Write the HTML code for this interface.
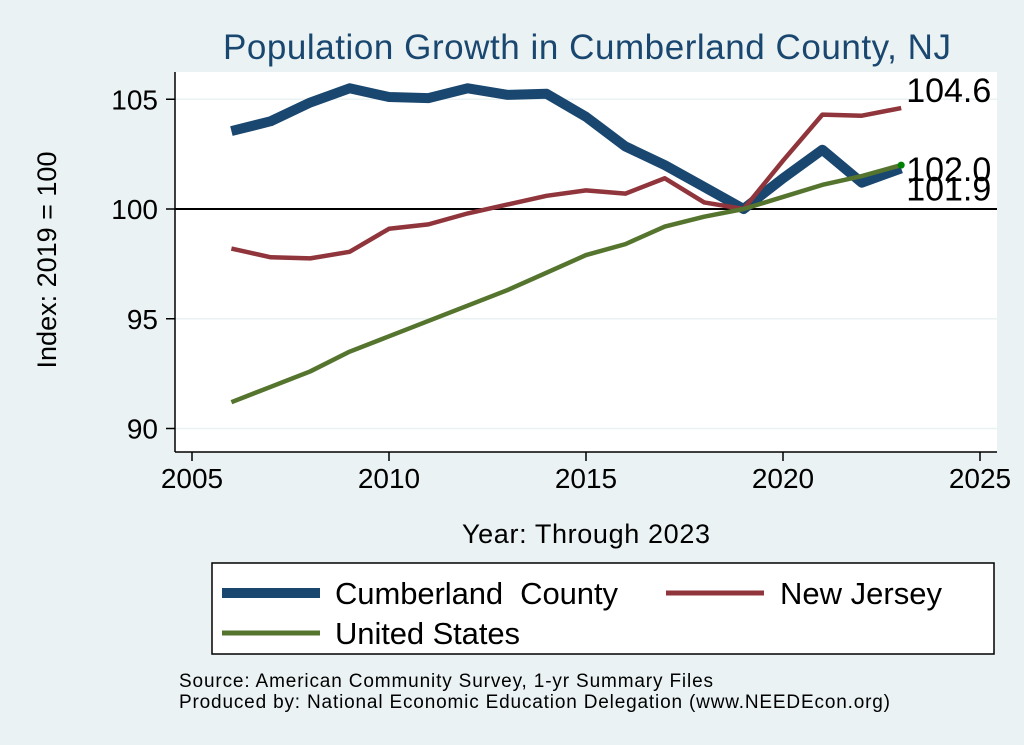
<!DOCTYPE html>
<html><head><meta charset="utf-8"><style>
body{margin:0;background:#eaf2f3;}
svg{display:block;font-family:"Liberation Sans",sans-serif;}
</style></head><body>
<svg id="c" width="1024" height="745" xmlns="http://www.w3.org/2000/svg">
<rect x="0" y="0" width="1024" height="745" fill="#eaf2f3"/>
<text x="587" y="59" font-size="35" fill="#1a476f" text-anchor="middle" textLength="728">Population Growth in Cumberland County, NJ</text>
<rect x="175" y="72" width="822" height="380" fill="#fff"/>
<g id="grid"></g>
<g id="axes"></g>
<g id="series"></g>
<text transform="translate(56,260) rotate(-90)" font-size="27" text-anchor="middle">Index: 2019 = 100</text>
<text x="586" y="543" font-size="27" text-anchor="middle" textLength="248">Year: Through 2023</text>
<g>
<rect x="212" y="563" width="782" height="91" fill="#fff" stroke="#000" stroke-width="1.5"/>
<line x1="222" y1="593" x2="320" y2="593" stroke="#1a476f" stroke-width="10"/>
<text x="335" y="604" font-size="31" textLength="283">Cumberland&#160;&#160;County</text>
<line x1="666" y1="593" x2="764" y2="593" stroke="#90353b" stroke-width="5"/>
<text x="780" y="604" font-size="31" textLength="162">New Jersey</text>
<line x1="222" y1="633" x2="320" y2="633" stroke="#55752f" stroke-width="5"/>
<text x="335" y="644" font-size="31" textLength="185">United States</text>
</g>
<text x="179" y="687" font-size="19" textLength="534">Source: American Community Survey, 1-yr Summary Files</text>
<text x="179" y="708" font-size="19" textLength="711">Produced by: National Economic Education Delegation (www.NEEDEcon.org)</text>
</svg>
<script>
const years=[2006,2007,2008,2009,2010,2011,2012,2013,2014,2015,2016,2017,2018,2019,2020,2021,2022,2023];
const cumberland=[103.55,104.0,104.85,105.5,105.1,105.05,105.5,105.2,105.25,104.2,102.85,102.0,101.0,100,101.4,102.7,101.2,101.85];
const newJersey=[98.2,97.8,97.75,98.05,99.1,99.3,99.8,100.2,100.6,100.85,100.7,101.4,100.3,100,102.2,104.3,104.25,104.6];
const unitedStates=[91.2,91.9,92.6,93.5,94.2,94.9,95.6,96.3,97.1,97.9,98.4,99.2,99.65,100,100.55,101.1,101.5,102.0];
const xTicks=[2005,2010,2015,2020,2025];
const yTicks=[90,95,100,105];
const endLabels=["101.9","104.6","102.0"];
const NS="http://www.w3.org/2000/svg";
const X=v=>192+(v-2005)*39.4;
const Y=v=>209-(v-100)*21.95;
function mk(t,a,p){const e=document.createElementNS(NS,t);for(const k in a)e.setAttribute(k,a[k]);p.appendChild(e);return e;}
const grid=document.getElementById('grid'),axes=document.getElementById('axes'),ser=document.getElementById('series');
yTicks.forEach(v=>{const l=mk('line',{x1:175,x2:997,y1:Y(v),y2:Y(v),stroke:v===100?'#000':'#eaf2f3','stroke-width':v===100?2:1.5},grid);


mk('line',{x1:166,x2:175,y1:Y(v),y2:Y(v),stroke:'#000','stroke-width':1.5},axes);
const t=mk('text',{x:158,y:Y(v)+10,'font-size':28,'text-anchor':'end'},axes);t.textContent=v;

});
xTicks.forEach(v=>{mk('line',{x1:X(v),x2:X(v),y1:452,y2:461,stroke:'#000','stroke-width':1.5},axes);
const t=mk('text',{x:X(v),y:488,'font-size':28,'text-anchor':'middle'},axes);t.textContent=v;

});
mk('line',{x1:175,x2:175,y1:72,y2:452,stroke:'#000','stroke-width':1.5},axes);
mk('line',{x1:175,x2:997,y1:452,y2:452,stroke:'#000','stroke-width':1.5},axes);
const S=[[unitedStates,'#55752f',4.5,'line-us'],[newJersey,'#90353b',4.5,'line-nj'],[cumberland,'#1a476f',10,'line-cumberland']];
[S[2],S[1],S[0]].forEach(([d,c,w,n])=>{const p=mk('polyline',{points:d.map((v,i)=>X(years[i])+','+Y(v)).join(' '),fill:'none',stroke:c,'stroke-width':w,'stroke-linejoin':'round'},ser);

});
const last=years.length-1;
mk('circle',{cx:X(years[last]),cy:Y(unitedStates[last]),r:3.5,fill:'#008000'},ser);
[[cumberland,0,32],[newJersey,1,-6],[unitedStates,2,16]].forEach(([d,i,dy])=>{const t=mk('text',{x:X(years[last])+5,y:Y(d[last])+dy,'font-size':34},ser);t.textContent=endLabels[i];

});
</script>
</body></html>
